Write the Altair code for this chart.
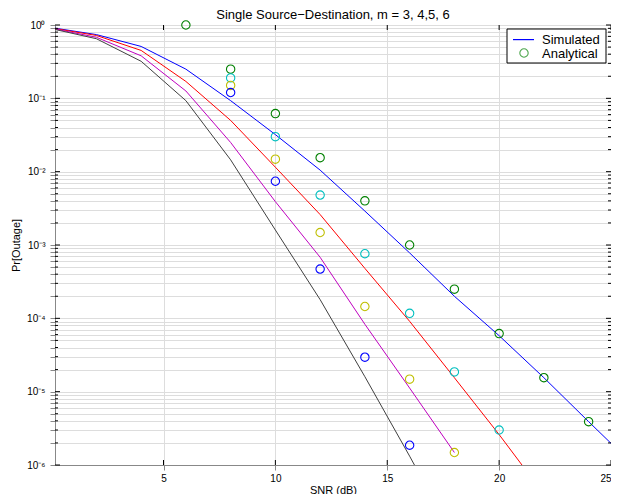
import altair as alt
import pandas as pd

# ---------------- data ----------------
snr_sim = [0, 2, 4, 6, 8, 10, 12, 14, 16, 18, 20, 22, 24, 26]
sim_m3 = [0.92, 0.74, 0.51, 0.25, 0.093, 0.032, 0.0105, 2.9e-3, 7.8e-4, 2.0e-4, 5.8e-5, 1.55e-5, 3.9e-6, 1.0e-6]
sim_m4 = [0.91, 0.72, 0.45, 0.17, 0.05, 0.0115, 2.6e-3, 4.8e-4, 9.1e-5, 1.55e-5, 2.6e-6, 4.0e-7]
sim_m5 = [0.90, 0.68, 0.38, 0.126, 0.025, 3.9e-3, 6.8e-4, 8.3e-5, 1.12e-5, 1.48e-6]
sim_m6 = [0.89, 0.65, 0.32, 0.093, 0.0145, 1.6e-3, 1.8e-4, 1.6e-5, 1.32e-6, 1.0e-7]

snr_ana_m3 = [6, 8, 10, 12, 14, 16, 18, 20, 22, 24]
ana_m3 = [1.0, 0.25, 0.062, 0.0155, 4.0e-3, 1.0e-3, 2.5e-4, 6.2e-5, 1.55e-5, 3.9e-6]
snr_ana_m4 = [8, 10, 12, 14, 16, 18, 20]
ana_m4 = [0.19, 0.030, 4.8e-3, 7.6e-4, 1.17e-4, 1.86e-5, 3.0e-6]
snr_ana_m5 = [8, 10, 12, 14, 16, 18]
ana_m5 = [0.15, 0.0148, 1.48e-3, 1.45e-4, 1.48e-5, 1.48e-6]
snr_ana_m6 = [8, 10, 12, 14, 16]
ana_m6 = [0.12, 7.4e-3, 4.7e-4, 2.95e-5, 1.86e-6]

sim_names = ["sim m=3", "sim m=4", "sim m=5", "sim m=6"]
sim_colors = ["#0000FF", "#FF0000", "#BF00BF", "#404040"]
ana_names = ["ana m=3", "ana m=4", "ana m=5", "ana m=6"]
ana_colors = ["#008000", "#00BFBF", "#BFBF00", "#0000FF"]

x_ticks = [5, 10, 15, 20, 25]

title_text = "Single Source\u2212Destination, m = 3, 4,5, 6"
x_title = "SNR (dB)"
y_title = "Pr[Outage]"
legend_labels = ["Simulated", "Analytical"]

FONT = "Liberation Sans, Arial, Helvetica, sans-serif"
FS = 13
W, H = 556, 440

# ---------------- tables ----------------
rows = []
for name, vals in zip(sim_names, [sim_m3, sim_m4, sim_m5, sim_m6]):
    for s, v in zip(snr_sim, vals):
        rows.append({"snr": s, "pr": v, "series": name})
sim_df = pd.DataFrame(rows)

rows = []
for name, xs, vals in zip(ana_names, [snr_ana_m3, snr_ana_m4, snr_ana_m5, snr_ana_m6],
                          [ana_m3, ana_m4, ana_m5, ana_m6]):
    for s, v in zip(xs, vals):
        rows.append({"snr": s, "pr": v, "series": name})
ana_df = pd.DataFrame(rows)

# y axis: major + minor positions on the log axis
y_vals = []
y_major = []
for k in range(6, -1, -1):
    for m in range(1, 10):
        v = m * 10.0 ** (-k)
        if v <= 1.0 + 1e-12:
            y_vals.append(v)
            y_major.append(m == 1)
ytick_df = pd.DataFrame({"pr": y_vals, "major": y_major})
ytick_major = ytick_df[ytick_df["major"]]
ytick_minor = ytick_df[~ytick_df["major"]]
xtick_df = pd.DataFrame({"snr": x_ticks})

sup = {"0": "\u2070", "1": "\u00b9", "2": "\u00b2", "3": "\u00b3", "4": "\u2074",
       "5": "\u2075", "6": "\u2076"}
expr = "''"
for k in range(6, -1, -1):
    lab = "10" + ("\u207b" if k > 0 else "") + sup[str(k)]
    expr = f"abs(log(datum.value)/LN10 + {k}) < 0.001 ? '{lab}' : ({expr})"

x_scale = alt.Scale(domain=[0.15, 25], nice=False, zero=False)
y_scale = alt.Scale(type="log", domain=[1e-6, 1], nice=False)

x_enc = alt.X("snr:Q", scale=x_scale,
              axis=alt.Axis(values=x_ticks, title=x_title, format="d",
                            labelFlush=True, labelOverlap=False, labelPadding=3,
                            titlePadding=1, titleFontWeight="normal"))
y_enc = alt.Y("pr:Q", scale=y_scale,
              axis=alt.Axis(values=y_vals, title=y_title, labelExpr=expr,
                            labelOverlap=False, labelPadding=5, titlePadding=5,
                            titleFontWeight="normal"))

lines = alt.Chart(sim_df).mark_line(strokeWidth=1, clip=True).encode(
    x=x_enc, y=y_enc,
    color=alt.Color("series:N", scale=alt.Scale(domain=sim_names, range=sim_colors), legend=None),
)

points = alt.Chart(ana_df).mark_point(shape="circle", filled=False, size=70, strokeWidth=1.1,
                                      opacity=1).encode(
    x="snr:Q", y="pr:Q",
    stroke=alt.Stroke("series:N", scale=alt.Scale(domain=ana_names, range=ana_colors), legend=None),
)

# MATLAB-style inward ticks on all four sides
tick_layers = []
for y0, y1 in [(0, 5), (H, H - 5)]:
    tick_layers.append(alt.Chart(xtick_df).mark_rule(strokeWidth=1).encode(
        x="snr:Q", y=alt.value(y0), y2=alt.value(y1), color=alt.value("black")))
for df_, ln in [(ytick_major, 5), (ytick_minor, 3)]:
    tick_layers.append(alt.Chart(df_).mark_rule(strokeWidth=1).encode(
        y="pr:Q", x=alt.value(0), x2=alt.value(ln), color=alt.value("black")))
    tick_layers.append(alt.Chart(df_).mark_rule(strokeWidth=1).encode(
        y="pr:Q", x=alt.value(W), x2=alt.value(W - ln), color=alt.value("black")))

dummy = pd.DataFrame({"a": [0]})
leg_box = alt.Chart(dummy).mark_rect(fill="white", stroke="black", strokeWidth=1).encode(
    x=alt.value(452), x2=alt.value(551), y=alt.value(4), y2=alt.value(38))
leg_line = alt.Chart(dummy).mark_rect(fill="#0000FF", strokeWidth=0).encode(
    x=alt.value(458), x2=alt.value(479), y=alt.value(14), y2=alt.value(15.2))
leg_pt = alt.Chart(dummy).mark_point(shape="circle", filled=False, size=70, strokeWidth=1.1).encode(
    x=alt.value(469), y=alt.value(28), color=alt.value("#008000"))
leg_t1 = alt.Chart(dummy).mark_text(align="left", baseline="middle", fontSize=FS, font=FONT,
                                    color="black").encode(
    x=alt.value(487), y=alt.value(14.5), text=alt.value(legend_labels[0]))
leg_t2 = alt.Chart(dummy).mark_text(align="left", baseline="middle", fontSize=FS, font=FONT,
                                    color="black").encode(
    x=alt.value(487), y=alt.value(28.5), text=alt.value(legend_labels[1]))

chart = alt.layer(lines, *tick_layers, points, leg_box, leg_line, leg_pt, leg_t1, leg_t2).properties(
    width=W, height=H,
    title=alt.TitleParams(title_text, fontSize=FS, fontWeight="normal", font=FONT,
                          color="black", offset=6, baseline="bottom", dy=22),
    autosize=alt.AutoSizeParams(type="none"),
    padding={"left": 47, "top": 17, "right": 0, "bottom": 29},
).configure_view(
    stroke="black", strokeWidth=1
).configure_axis(
    labelFont=FONT, titleFont=FONT, labelFontSize=FS, titleFontSize=FS,
    labelColor="black", titleColor="black", titleFontWeight="normal",
    ticks=False, domain=False,
    grid=True, gridColor="#333333", gridDash=[1, 4], gridWidth=1, gridOpacity=0.85,
).configure(background="white")

chart.save("out.html", embed_options={"renderer": "svg", "actions": False})
